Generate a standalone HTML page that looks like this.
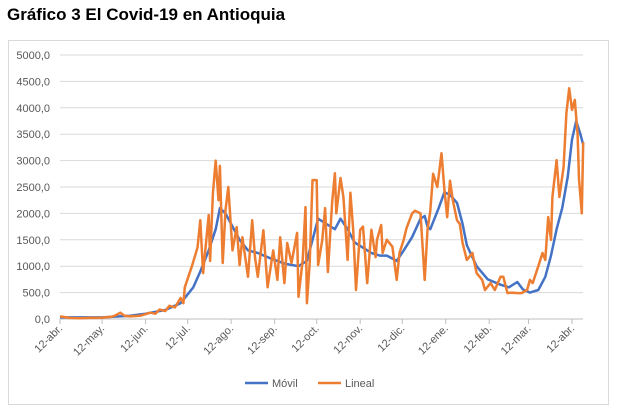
<!DOCTYPE html>
<html><head><meta charset="utf-8"><style>
body{margin:0;background:#fff;width:622px;height:414px;overflow:hidden;font-family:"Liberation Sans",Arial,sans-serif}
#title{position:absolute;left:7px;top:5px;font-size:17px;font-weight:bold;color:#000}
svg{position:absolute;left:0;top:0}
</style></head><body>
<div id="title">Gráfico 3 El Covid-19 en Antioquia</div>
<svg id="chart" width="622" height="414"></svg>
<script>
// days since 12-abr-2020 and daily cases
const linealDays=[0,7,14,21,29,36,39,43,46,50,57,61,64,68,71,75,78,82,86,88,89,94,98,100,102,106,107,109,111,113,114,116,118,120,123,126,128,130,134,137,139,141,145,148,152,155,157,160,162,165,169,170,173,175,176,178,180,183,184,187,189,191,194,196,197,200,202,205,207,209,211,214,216,219,220,222,225,226,229,230,233,237,240,242,245,247,251,253,257,260,262,264,266,269,272,274,276,278,280,283,285,287,290,294,297,301,303,307,310,314,316,319,322,326,329,333,335,337,341,344,346,348,350,351,354,356,359,361,363,365,367,369,370,372,373];
const linealVals=[50,20,15,20,25,40,60,120,60,50,60,90,120,100,180,150,250,220,400,300,600,1000,1350,1870,870,1970,1100,2380,3000,2250,2900,1060,2060,2500,1300,1740,1020,1550,800,1870,1170,800,1680,600,1300,740,1550,680,1440,1060,1630,420,1120,2120,300,1060,2630,2630,1020,1500,2100,890,2200,2760,2000,2670,2310,1120,2390,1690,550,1690,1750,680,1000,1690,1170,1500,1780,1250,1500,1370,740,1250,1500,1720,2000,2050,2000,740,1690,2050,2750,2500,3140,2450,1930,2620,2250,1870,1800,1440,1120,1250,870,740,550,680,550,800,800,490,500,490,490,550,740,680,1000,1250,1120,1930,1500,2310,3010,2310,2880,3900,4370,3960,4150,3500,2650,2000,3350];
const movilDays=[0,30,50,61,75,86,95,100,106,111,114,118,123,128,134,141,150,160,170,176,180,184,190,196,200,205,210,216,222,228,233,240,245,251,257,260,262,264,270,274,278,283,287,290,297,305,314,320,326,330,335,341,346,350,354,358,362,365,368,371,373];
const movilVals=[30,30,60,100,170,300,600,900,1300,1700,2100,2000,1750,1500,1300,1250,1150,1050,1000,1100,1500,1900,1800,1700,1900,1700,1450,1350,1250,1200,1200,1100,1300,1550,1900,1950,1750,1700,2100,2400,2350,2200,1800,1400,1000,750,650,600,700,560,500,550,800,1200,1700,2100,2700,3400,3750,3500,3300];
const yTicks=[0,500,1000,1500,2000,2500,3000,3500,4000,4500,5000];
const yTickLabels=["0,0","500,0","1000,0","1500,0","2000,0","2500,0","3000,0","3500,0","4000,0","4500,0","5000,0"];
const xTickDays=[0,30,61,91,122,153,183,214,244,275,306,334,365];
const xTickLabels=["12-abr.","12-may.","12-jun.","12-jul.","12-ago.","12-sep.","12-oct.","12-nov.","12-dic.","12-ene.","12-feb.","12-mar.","12-abr."];

const NS="http://www.w3.org/2000/svg";
const svg=document.getElementById('chart');
const X=d=>60+d*(512/365);
const Y=v=>319-v*(264/5000);
function mk(t,a){const e=document.createElementNS(NS,t);for(const k in a)e.setAttribute(k,a[k]);svg.appendChild(e);return e;}
const frame=mk('rect',{x:8.5,y:40.5,width:600,height:364,fill:'#fff',stroke:'#d9d9d9'});


yTicks.forEach((v,i)=>{
  const g=mk('line',{x1:60,x2:583,y1:Y(v),y2:Y(v),stroke:i===0?'#bfbfbf':'#d9d9d9','stroke-width':1});
  
  
  const t=mk('text',{x:50,y:Y(v)+4,'text-anchor':'end','font-size':11,fill:'#595959'});
  t.textContent=yTickLabels[i];
  
  
});
xTickDays.forEach((d,i)=>{
  const x=X(d);
  const tk=mk('line',{x1:x,x2:x,y1:319,y2:324,stroke:'#bfbfbf'});
  
  
  const t=mk('text',{x:x+3,y:329,'text-anchor':'end','font-size':11,fill:'#595959',transform:`rotate(-45 ${x+3} 329)`});
  t.textContent=xTickLabels[i];
  
  
});
function line(days,vals,color,name){
  const p=days.map((d,i)=>X(d).toFixed(1)+','+Y(vals[i]).toFixed(1)).join(' ');
  const l=mk('polyline',{points:p,fill:'none',stroke:color,'stroke-width':2.5,'stroke-linejoin':'round'});
  
  
}
line(movilDays,movilVals,'#4472c4','movil-series');
line(linealDays,linealVals,'#ed7d31','lineal-series');
[[245,'#4472c4','Móvil','legend-movil'],[318,'#ed7d31','Lineal','legend-lineal']].forEach(([x,c,lab,n])=>{
  const g=mk('g',{});
  
  
  const l=document.createElementNS(NS,'line');
  l.setAttribute('x1',x);l.setAttribute('x2',x+23);l.setAttribute('y1',383);l.setAttribute('y2',383);
  l.setAttribute('stroke',c);l.setAttribute('stroke-width',2.5);g.appendChild(l);
  const t=document.createElementNS(NS,'text');
  t.setAttribute('x',x+27);t.setAttribute('y',387);t.setAttribute('font-size',11);t.setAttribute('fill','#595959');
  t.textContent=lab;g.appendChild(t);
});
</script>
</body></html>
